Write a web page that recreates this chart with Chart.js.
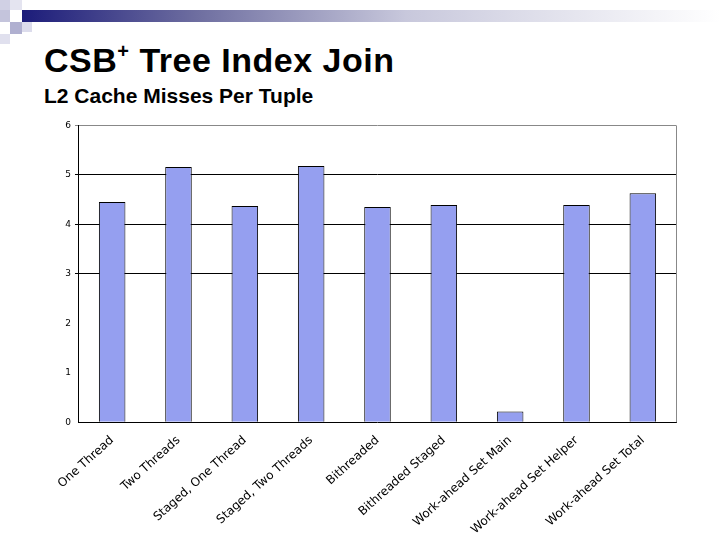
<!DOCTYPE html>
<html><head><meta charset="utf-8">
<script src="https://cdn.jsdelivr.net/npm/chart.js@4/dist/chart.umd.min.js"></script>
<style>
body{margin:0;width:720px;height:540px;background:#fff;position:relative;overflow:hidden;font-family:"Liberation Sans",Arial,sans-serif}
.band{position:absolute;left:22px;top:10px;width:698px;height:12px;background:linear-gradient(to right,#1c1c7a,#6e6ea0 25%,#c8c8dc 55%,#fff)}
.sq{position:absolute;background:#b4b4d2}
h1{position:absolute;left:44px;top:40px;margin:0;font-size:34px;font-weight:bold;letter-spacing:0.5px}
h1 sup{font-size:20px;vertical-align:14px}
h2{position:absolute;left:44px;top:84px;margin:0;font-size:21px;font-weight:bold}
#wrap{position:absolute;left:56px;top:116px;width:634px;height:424px}
</style></head><body>
<div class="band"></div>
<div class="sq" style="left:0;top:0;width:10px;height:10px;background:#d0d0e4"></div>
<div class="sq" style="left:10px;top:0;width:12px;height:10px;background:#e4e4f0"></div>
<div class="sq" style="left:0;top:10px;width:10px;height:12px;background:#c4c4dc"></div>
<div class="sq" style="left:10px;top:22px;width:12px;height:12px;background:#b0b0d0"></div>
<div class="sq" style="left:22px;top:22px;width:10px;height:10px;background:#dcdcec"></div>
<div class="sq" style="left:0;top:34px;width:10px;height:10px;background:#e0e0ee"></div>
<h1>CSB<sup>+</sup> Tree Index Join</h1>
<h2>L2 Cache Misses Per Tuple</h2>
<div id="wrap"><canvas id="c"></canvas></div>
<script>
const categories = ["One Thread","Two Threads","Staged, One Thread","Staged, Two Threads","Bithreaded","Bithreaded Staged","Work-ahead Set Main","Work-ahead Set Helper","Work-ahead Set Total"];
const misses = [4.45, 5.16, 4.37, 5.18, 4.35, 4.39, 0.22, 4.39, 4.63];
const yTicks = [0,1,2,3,4,5,6];

new Chart(document.getElementById("c"), {
  type: "bar",
  data: { labels: categories, datasets: [{ data: misses, backgroundColor: "#959ff0", borderColor: "#000", borderWidth: 1, borderSkipped: "bottom", barPercentage: 0.4, categoryPercentage: 1 }] },
  options: {
    responsive: true, maintainAspectRatio: false, animation: false,
    layout: { padding: { right: 14 } },
    plugins: { legend: { display: false }, tooltip: { enabled: false } },
    scales: {
      x: { grid: { display: false }, border: { color: "#000" },
           ticks: { color: "#000", font: { family: "DejaVu Sans", size: 12 }, maxRotation: 42, minRotation: 42, autoSkip: false } },
      y: { min: 0, max: 6, afterBuildTicks: a => { a.ticks = yTicks.map(v => ({ value: v })); },
           grid: { color: c => c.tick.value === 6 ? "#888" : (c.tick.value >= 3 ? "#000" : "rgba(0,0,0,0)"), tickLength: 4 },
           border: { color: "#000" },
           ticks: { color: "#000", font: { family: "DejaVu Sans", size: 9 }, padding: 4 } }
    }
  },
  plugins: [{ id: "rightBorder", afterDraw(ch) { const a = ch.chartArea, g = ch.ctx; g.save(); g.strokeStyle = "#888"; g.lineWidth = 1; g.beginPath(); g.moveTo(a.right + 0.5, a.top); g.lineTo(a.right + 0.5, a.bottom); g.stroke(); g.restore(); } }]
});
</script>
</body></html>
